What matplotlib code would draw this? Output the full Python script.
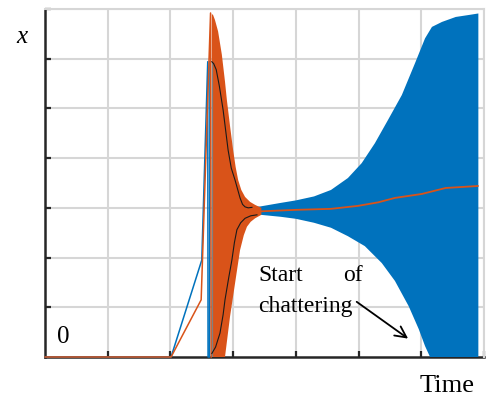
import matplotlib
matplotlib.use("Agg")
import matplotlib.pyplot as plt

# ---- data (axis units 0..7) ----
blue_line_x = [0, 2.01, 2.50, 2.595, 2.60, 2.625, 2.63]
blue_line_y = [0, 0, 1.95, 5.94, 0, 0, 5.94]

orange_line_x = [0, 2.01, 2.49, 2.64, 2.65]
orange_line_y = [0, 0, 1.15, 6.92, 0]

orange_up_x = [2.66, 2.68, 2.71, 2.76, 2.82, 2.87, 2.90, 2.95, 3.00, 3.04, 3.08, 3.13, 3.19, 3.27, 3.35, 3.45]
orange_up_y = [6.90, 6.88, 6.78, 6.55, 6.08, 5.54, 5.17, 4.65, 4.16, 3.82, 3.56, 3.36, 3.22, 3.12, 3.06, 3.00]
orange_lo_x = [2.66, 2.87, 2.95, 3.03, 3.11, 3.17, 3.22, 3.28, 3.35, 3.45]
orange_lo_y = [0.00, 0.00, 0.81, 1.48, 2.15, 2.45, 2.62, 2.72, 2.79, 2.86]

blue_up_x = [3.35, 3.44, 3.76, 4.00, 4.29, 4.56, 4.83, 5.05, 5.26, 5.47, 5.69, 5.90, 6.06, 6.17, 6.33, 6.55, 6.76, 6.91]
blue_up_y = [3.02, 3.03, 3.10, 3.15, 3.23, 3.36, 3.60, 3.90, 4.30, 4.77, 5.27, 5.91, 6.41, 6.64, 6.74, 6.84, 6.88, 6.91]
blue_lo_x = [3.35, 3.44, 3.76, 4.00, 4.29, 4.56, 4.83, 5.10, 5.37, 5.58, 5.80, 5.96, 6.06, 6.14, 6.91]
blue_lo_y = [2.90, 2.86, 2.82, 2.78, 2.70, 2.60, 2.43, 2.23, 1.89, 1.53, 1.02, 0.56, 0.22, 0.00, 0.00]

orange_mean_x = [3.35, 3.44, 4.00, 4.56, 4.99, 5.31, 5.58, 6.01, 6.39, 6.65, 6.90]
orange_mean_y = [2.95, 2.93, 2.96, 2.98, 3.04, 3.11, 3.20, 3.28, 3.40, 3.42, 3.44]

black_up_x = [2.66, 2.69, 2.73, 2.78, 2.84, 2.92, 2.97, 3.03, 3.11, 3.15, 3.19, 3.24, 3.30]
black_up_y = [5.94, 5.90, 5.78, 5.45, 4.97, 4.16, 3.80, 3.56, 3.20, 3.07, 3.02, 3.00, 3.01]
black_lo_x = [2.66, 2.72, 2.79, 2.84, 2.87, 2.93, 2.98, 3.02, 3.06, 3.12, 3.19, 3.28, 3.38]
black_lo_y = [0.07, 0.20, 0.48, 0.85, 1.15, 1.60, 1.95, 2.30, 2.56, 2.70, 2.79, 2.84, 2.86]

gray_x = [2.66, 2.66]
gray_y = [0, 5.94]

ticks = [1, 2, 3, 4, 5, 6, 7]

BLUE = "#0072BD"
ORANGE = "#D95319"
GRID = "#d6d6d6"

fig = plt.figure(figsize=(4.86, 3.98), dpi=100)
ax = fig.add_axes([45/486, 1-357/398, (484-45)/486, (357-9)/398])

ax.set_xlim(0, 7)
ax.set_ylim(0, 7)
ax.set_xticks(ticks)
ax.set_yticks(ticks)
ax.set_xticklabels([])
ax.set_yticklabels([])
ax.grid(True, color=GRID, lw=1.5)
ax.set_axisbelow(True)
ax.tick_params(direction="in", length=4, width=1.6, color="#262626")
for s in ["top", "right"]:
    ax.spines[s].set_color(GRID)
    ax.spines[s].set_linewidth(1.5)
for s in ["left", "bottom"]:
    ax.spines[s].set_color("#262626")
    ax.spines[s].set_linewidth(1.8)
    ax.spines[s].set_zorder(1)

ax.fill(blue_up_x + blue_lo_x[::-1], blue_up_y + blue_lo_y[::-1], color=BLUE, lw=0, zorder=3)
ax.plot(orange_mean_x, orange_mean_y, color=ORANGE, lw=1.3, zorder=4)
ax.plot(blue_line_x, blue_line_y, color=BLUE, lw=1.1, zorder=3, clip_on=False)
ax.plot(orange_line_x, orange_line_y, color=ORANGE, lw=1.1, zorder=4, clip_on=False)
ax.fill(orange_up_x + orange_lo_x[::-1], orange_up_y + orange_lo_y[::-1], color=ORANGE, lw=0, zorder=4)
ax.plot(gray_x, gray_y, color="#808080", lw=0.9, zorder=5)
ax.plot(black_up_x, black_up_y, color="#1a1a1a", lw=0.8, zorder=6)
ax.plot(black_lo_x, black_lo_y, color="#1a1a1a", lw=0.8, zorder=6)

serif = ["Liberation Serif", "DejaVu Serif"]
ax.text(3.40, 1.52, "Start", family=serif, fontsize=17, va="baseline", ha="left", zorder=7)
ax.text(5.07, 1.52, "of", family=serif, fontsize=17, va="baseline", ha="right", zorder=7)
ax.text(3.40, 0.91, "chattering", family=serif, fontsize=17, va="baseline", ha="left", zorder=7)
ax.annotate("", xy=(5.79, 0.37), xytext=(4.97, 1.11),
            arrowprops=dict(arrowstyle="->", lw=1.3, color="k", mutation_scale=20,
                            shrinkA=0, shrinkB=0), zorder=7)

fig.text(57/486, 1-343/398, "0", family=serif, fontsize=18, va="baseline", ha="left")
fig.text(16/486, 1-43/398, "x", family=serif, style="italic", fontsize=18, va="baseline", ha="left")
fig.text(420/486, 1-392/398, "Time", family=serif, fontsize=19, va="baseline", ha="left")

fig.savefig("out.png", dpi=100)
